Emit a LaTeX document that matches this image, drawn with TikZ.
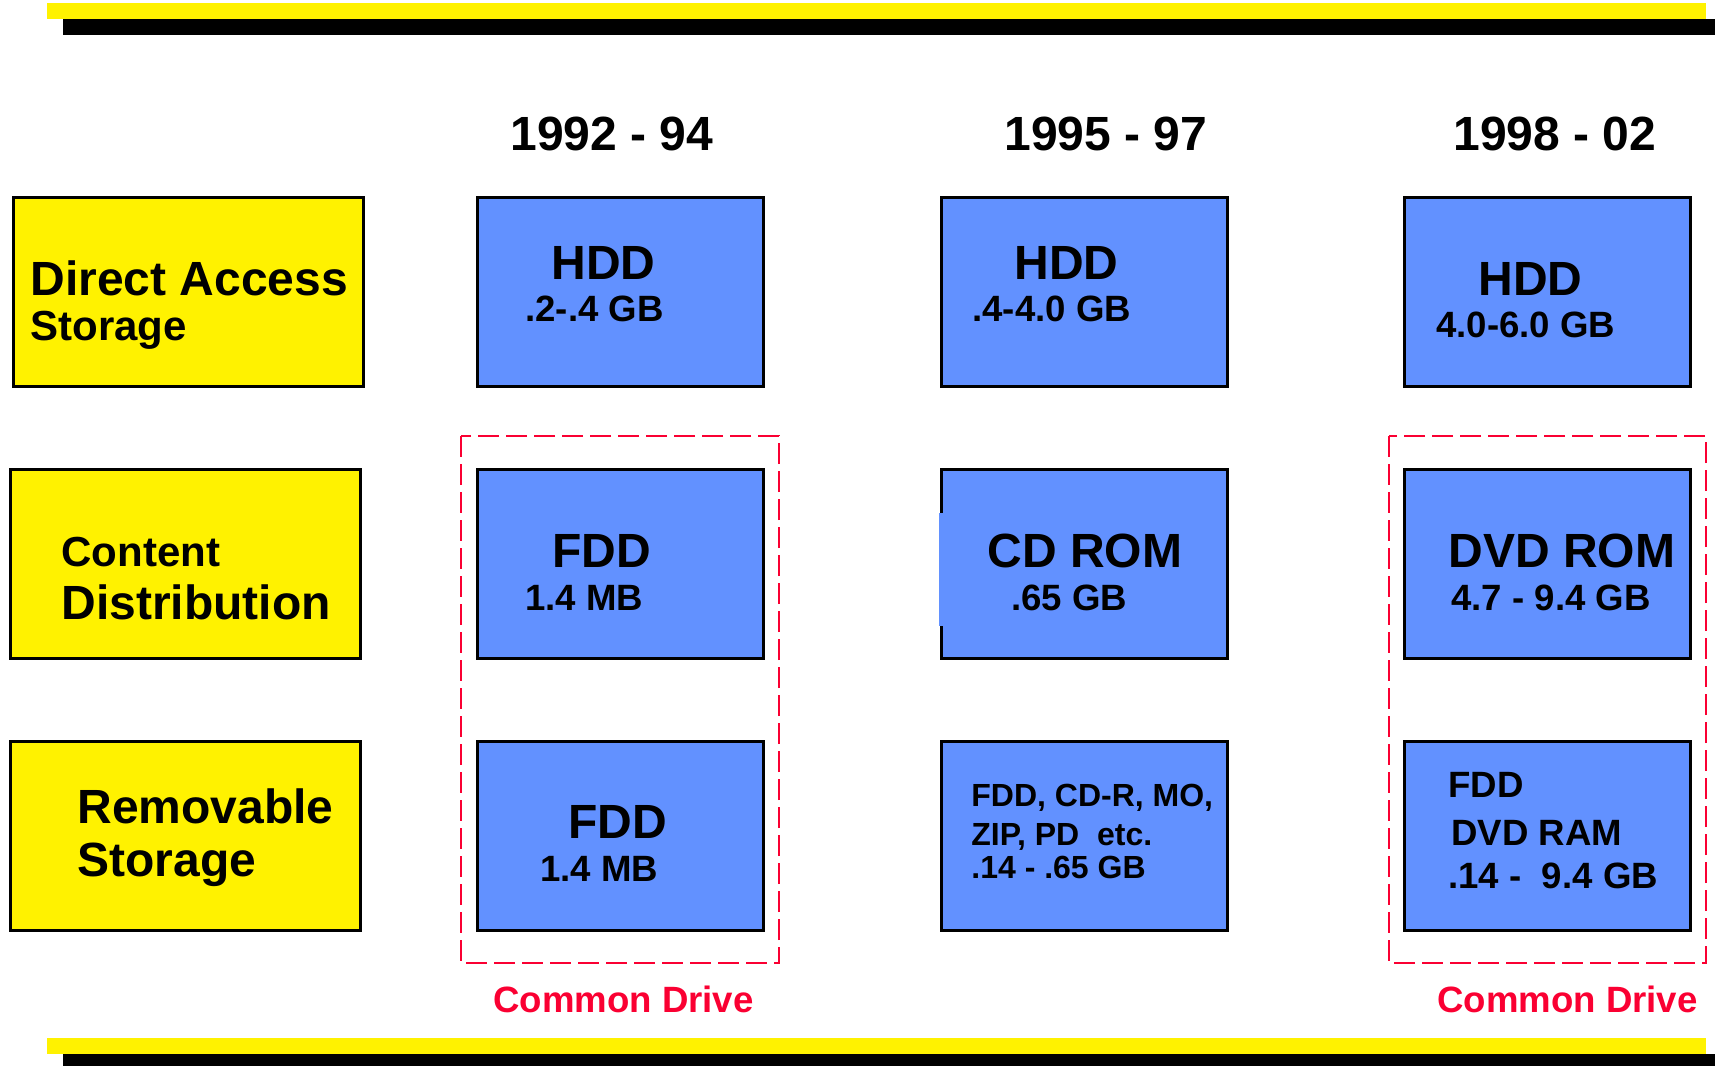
\documentclass[tikz,border=0pt]{standalone}
\usepackage{fontspec}
\setmainfont{Liberation Sans}
\definecolor{boxblue}{RGB}{98,145,255}
\definecolor{drivered}{RGB}{250,0,50}

\begin{document}
\begin{tikzpicture}[x=0.5pt, y=-0.5pt,
		media/.style={draw=black, fill=boxblue, line width=1.5pt, minimum width=143pt, minimum height=94.5pt, inner sep=0pt},
		rowbox/.style={draw=black, fill=yellow, line width=1.5pt, minimum width=175pt, minimum height=94.5pt, inner sep=0pt},
		txtbig/.style={font=\bfseries\fontsize{24}{28}\selectfont, inner sep=0pt, anchor=base west},
		txtmid/.style={font=\bfseries\fontsize{21}{25}\selectfont, inner sep=0pt, anchor=base west},
		txtsmall/.style={font=\bfseries\fontsize{18.3}{22}\selectfont, inner sep=0pt, anchor=base west},
		txtlist/.style={font=\bfseries\fontsize{16}{19}\selectfont, inner sep=0pt, anchor=base west},
		common/.style={draw=drivered, dash pattern=on 10.5pt off 3.5pt, line width=1.35pt}]
	\useasboundingbox (0, 0) rectangle (1715, 1066);

	% bars
	\fill[yellow]	(47, 3) rectangle (1706, 19);
	\fill[black]	(63, 19) rectangle (1715, 35);
	\fill[yellow]	(47, 1038) rectangle (1706, 1054);
	\fill[black]	(63, 1054) rectangle (1715, 1070);

	% years
	\node[txtbig] (y1) at (510, 150) {1992 - 94};
	\node[txtbig] (y2) at (1004, 150) {1995 - 97};
	\node[txtbig] (y3) at (1453, 150) {1998 - 02};

	% rows
	\node[rowbox] (direct) at (188, 291.5) {};
	\node[txtbig] (directa) at (30, 295) {Direct Access};
	\node[txtmid] (directb) at (30, 340) {Storage};
	\node[rowbox] (content) at (185, 563.5) {};
	\node[txtmid] (contenta) at (61, 566) {Content};
	\node[txtbig] (contentb) at (61, 619) {Distribution};
	\node[rowbox] (remov) at (185, 835.5) {};
	\node[txtbig] (remova) at (77, 823) {Removable};
	\node[txtbig] (removb) at (77, 876) {Storage};

	% common drive frames
	\draw[common] (461, 436) rectangle (779, 963);
	\draw[common] (1389, 436) rectangle (1706, 963);
	\node[txtsmall, text=drivered] (drivea) at (493, 1012) {Common Drive};
	\node[txtsmall, text=drivered] (driveb) at (1437, 1012) {Common Drive};

	% 1992 - 94
	\node[media] (hdda) at (620, 291.5) {};
	\node[txtbig] (hddat) at (551, 279) {HDD};
	\node[txtsmall] (hddas) at (525, 321) {.2-.4 GB};
	\node[media] (fdda) at (620, 563.5) {};
	\node[txtbig] (fddat) at (552, 567) {FDD};
	\node[txtsmall] (fddas) at (525, 610) {1.4 MB};
	\node[media] (fddb) at (620, 835.5) {};
	\node[txtbig] (fddbt) at (568, 838) {FDD};
	\node[txtsmall] (fddbs) at (540, 881) {1.4 MB};

	% 1995 - 97
	\node[media] (hddb) at (1084, 291.5) {};
	\node[txtbig] (hddbt) at (1014, 279) {HDD};
	\node[txtsmall] (hddbs) at (972, 321) {.4-4.0 GB};
	\node[media] (cdrom) at (1084, 563.5) {};
	\draw[boxblue, line width=1.6pt] (941, 513) -- (941, 626);
	\node[txtbig] (cdromt) at (987, 567) {CD ROM};
	\node[txtsmall] (cdroms) at (1011, 610) {.65 GB};
	\node[media] (mixed) at (1084, 835.5) {};
	\node[txtlist] (mixeda) at (971, 806) {FDD, CD-R, MO,};
	\node[txtlist] (mixedb) at (971, 845) {ZIP, PD\ \ etc.};
	\node[txtlist] (mixedc) at (971, 878) {.14 - .65 GB};

	% 1998 - 02
	\node[media] (hddc) at (1547.5, 291.5) {};
	\node[txtbig] (hddct) at (1478, 295) {HDD};
	\node[txtsmall] (hddcs) at (1436, 337) {4.0-6.0 GB};
	\node[media] (dvdrom) at (1547.5, 563.5) {};
	\node[txtbig] (dvdromt) at (1448, 567) {DVD ROM};
	\node[txtsmall] (dvdroms) at (1451, 610) {4.7 - 9.4 GB};
	\node[media] (dvdram) at (1547.5, 835.5) {};
	\node[txtsmall] (dvdrama) at (1448, 797) {FDD};
	\node[txtsmall] (dvdramb) at (1451, 845) {DVD RAM};
	\node[txtsmall] (dvdramc) at (1448, 888) {.14 -\ \ 9.4 GB};
\end{tikzpicture}
\end{document}
